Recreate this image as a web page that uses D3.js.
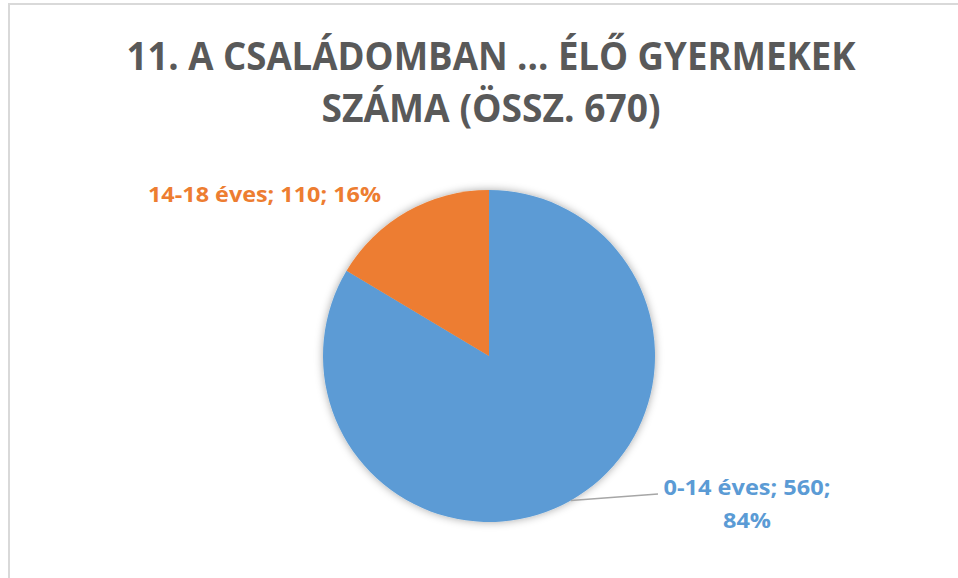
<!DOCTYPE html>
<html>
<head>
<meta charset="utf-8">
<script src="https://cdn.jsdelivr.net/npm/d3@7"></script>
<style>
  html, body { margin: 0; padding: 0; background: #ffffff; }
  svg { display: block; }
</style>
</head>
<body>
<svg id="chart" width="958" height="578"></svg>
<script>
// ---- data ----
const categories = ["0-14 éves", "14-18 éves"];
const values = [560, 110];
const percents = ["84%", "16%"];
const colors = ["#5B9BD5", "#ED7D31"];
const titleLines = ["11. A CSALÁDOMBAN ... ÉLŐ GYERMEKEK", "SZÁMA (ÖSSZ. 670)"];

const svg = d3.select("#chart");
const W = 958, H = 578;
const font = "'Open Sans', 'Noto Sans', sans-serif";

// frame
svg.append("rect").attr("x", 0).attr("y", 0).attr("width", W).attr("height", H).attr("fill", "#ffffff");
svg.append("path")
  .attr("d", `M9,${H} L9,4 L${W},4`)
  .attr("fill", "none").attr("stroke", "#d9d9d9").attr("stroke-width", 2);

// shadow filter
const defs = svg.append("defs");
const f = defs.append("filter").attr("id", "shadow").attr("x", "-20%").attr("y", "-20%").attr("width", "140%").attr("height", "140%");
f.append("feDropShadow").attr("dx", 0).attr("dy", 0).attr("stdDeviation", 4)
  .attr("flood-color", "#000").attr("flood-opacity", 0.35);

// title
const titleY = [70, 122];
const titleW = [729, 339];
titleLines.forEach((t, i) => {
  svg.append("text")
    .attr("x", 491).attr("y", titleY[i])
    .attr("text-anchor", "middle")
    .attr("font-family", font).attr("font-weight", "bold")
    .attr("font-size", 39)
    .attr("fill", "#595959")
    .attr("textLength", titleW[i]).attr("lengthAdjust", "spacingAndGlyphs")
    .text(t);
});

// pie
const cx = 489, cy = 356, R = 166;
const pie = d3.pie().sort(null).value(d => d)(values);
const arc = d3.arc().innerRadius(0).outerRadius(R);
const g = svg.append("g").attr("transform", `translate(${cx},${cy})`);
g.append("g").attr("filter", "url(#shadow)")
  .selectAll("path").data(pie).join("path")
  .attr("d", arc)
  .attr("fill", (d, i) => colors[i]);

// leader line for 0-14 label
const a0 = (pie[0].startAngle + pie[0].endAngle) / 2;
const edge = [Math.sin(a0) * R, -Math.cos(a0) * R];
svg.append("path")
  .attr("d", `M${cx + edge[0]},${cy + edge[1]} L${cx + 169},${cy + 138}`)
  .attr("fill", "none").attr("stroke", "#a6a6a6").attr("stroke-width", 1.5);

// labels
const lblSize = 22;
svg.append("text")
  .attr("x", 747).attr("y", 495)
  .attr("text-anchor", "middle")
  .attr("font-family", font).attr("font-weight", "bold").attr("font-size", lblSize)
  .attr("fill", colors[0])
  .attr("textLength", 167).attr("lengthAdjust", "spacingAndGlyphs")
  .text(`${categories[0]}; ${values[0]};`);
svg.append("text")
  .attr("x", 747).attr("y", 528)
  .attr("text-anchor", "middle")
  .attr("font-family", font).attr("font-weight", "bold").attr("font-size", lblSize)
  .attr("fill", colors[0])
  .attr("textLength", 48).attr("lengthAdjust", "spacingAndGlyphs")
  .text(percents[0]);

svg.append("text")
  .attr("x", 148).attr("y", 202)
  .attr("font-family", font).attr("font-weight", "bold").attr("font-size", lblSize)
  .attr("fill", colors[1])
  .attr("textLength", 233).attr("lengthAdjust", "spacingAndGlyphs")
  .text(`${categories[1]}; ${values[1]}; ${percents[1]}`);
</script>
</body>
</html>
